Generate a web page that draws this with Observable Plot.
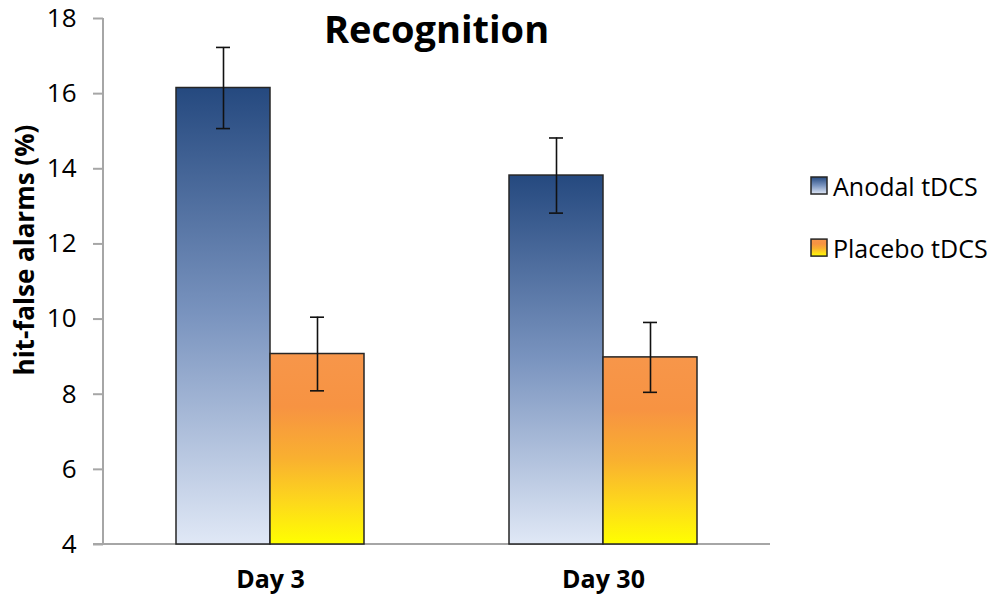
<!DOCTYPE html>
<html><head><meta charset="utf-8">
<script src="https://cdn.jsdelivr.net/npm/d3@7"></script>
<script src="https://cdn.jsdelivr.net/npm/@observablehq/plot@0.6"></script>
<style>body{margin:0;background:#fff} #chart{position:relative;width:1000px;height:606px}</style>
</head><body><div id="chart"></div>
<script>
const days = ["Day 3", "Day 30"];
const groups = ["Anodal tDCS", "Placebo tDCS"];
const anodalMeans = [16.15, 13.82];
const anodalErrors = [1.08, 1.0];
const placeboMeans = [9.07, 8.98];
const placeboErrors = [0.98, 0.93];
const yTicks = [4, 6, 8, 10, 12, 14, 16, 18];
const titleText = "Recognition";
const yLabel = "hit-false alarms (%)";

const rows = [];
days.forEach((day, i) => {
  rows.push({day, group: groups[0], value: anodalMeans[i], err: anodalErrors[i]});
  rows.push({day, group: groups[1], value: placeboMeans[i], err: placeboErrors[i]});
});

const plot = Plot.plot({
  width: 1000, height: 606,
  marginLeft: 103, marginRight: 230, marginTop: 18, marginBottom: 62,
  style: {fontFamily: "'Open Sans', sans-serif", background: "white", overflow: "visible"},
  fx: {domain: days, paddingInner: 0.435, paddingOuter: 0.2175, label: null},
  x: {domain: groups, padding: 0, axis: null},
  y: {domain: [4, 18]},
  marks: [
    Plot.barY(rows.filter(d => d.group === groups[0]), {fx: "day", x: "group", y1: 4, y2: "value", fill: "url(#gradA)", stroke: "#262626", strokeWidth: 1.5}),
    Plot.barY(rows.filter(d => d.group === groups[1]), {fx: "day", x: "group", y1: 4, y2: "value", fill: "url(#gradP)", stroke: "#262626", strokeWidth: 1.5}),
    Plot.ruleX(rows, {fx: "day", x: "group", y1: d => d.value - d.err, y2: d => d.value + d.err, stroke: "#111", strokeWidth: 1.6}),
    Plot.tickY(rows, {fx: "day", x: "group", y: d => d.value + d.err, insetLeft: 40, insetRight: 40, stroke: "#111", strokeWidth: 1.6}),
    Plot.tickY(rows, {fx: "day", x: "group", y: d => d.value - d.err, insetLeft: 40, insetRight: 40, stroke: "#111", strokeWidth: 1.6}),
    Plot.axisY({ticks: yTicks, tickSize: 10, tickPadding: 17, fontSize: 26, stroke: "#a6a6a6", strokeWidth: 2, fill: "black", label: null, tickFormat: d => String(d)}),
    Plot.axisFx({anchor: "bottom", tickSize: 0, tickPadding: 26, fontSize: 25, fontWeight: "bold", fill: "black", label: null})
  ]
});

const svg = d3.select(plot);
const defs = svg.insert("defs", ":first-child");
function grad(id, stops) {
  const g = defs.append("linearGradient").attr("id", id).attr("x1", 0).attr("y1", 0).attr("x2", 0).attr("y2", 1);
  stops.forEach(([o, c]) => g.append("stop").attr("offset", o).attr("stop-color", c));
}
grad("gradA", [[0, "#25497f"], [0.5, "#7a94bf"], [1, "#e0e8f6"]]);
grad("gradP", [[0, "#f7964a"], [0.28, "#f79342"], [0.55, "#f9b030"], [0.78, "#fdd81c"], [1, "#ffff00"]]);

const ys = plot.scale("y");
const fxs = plot.scale("fx");
const x0 = fxs.range[0], x1 = fxs.range[1];
// move the y axis from the first facet's edge to the frame's left edge
const shift = x0 - fxs.apply(days[0]);
svg.selectAll("g[aria-label^='y-axis']").each(function() {
  const t = this.getAttribute("transform") || "";
  this.setAttribute("transform", `translate(${shift},0) ${t}`);
});

const axes = svg.append("g").attr("stroke", "#a6a6a6").attr("stroke-width", 2);
axes.append("line").attr("x1", x0).attr("x2", x0).attr("y1", ys.apply(18)).attr("y2", ys.apply(4));
axes.append("line").attr("x1", x0 - 10).attr("x2", x1).attr("y1", ys.apply(4)).attr("y2", ys.apply(4));
svg.selectAll("g[aria-label='bar'], g[aria-label='rule'], g[aria-label='tick']").raise();

svg.append("text").attr("x", (x0 + x1) / 2).attr("y", 43).attr("text-anchor", "middle")
  .attr("font-size", 38).attr("font-weight", "bold").attr("fill", "black").text(titleText);

svg.append("text").attr("transform", "translate(23.5,250) rotate(-90)").attr("text-anchor", "middle")
  .attr("dominant-baseline", "central").attr("font-size", 26).attr("font-weight", "bold").attr("fill", "black").text(yLabel);

const legend = svg.append("g");
const legendItems = [[groups[0], "url(#gradA)", 185.5], [groups[1], "url(#gradP)", 247.6]];
legendItems.forEach(([label, fill, cy]) => {
  legend.append("rect").attr("x", 811).attr("y", cy - 8.5).attr("width", 16).attr("height", 17)
    .attr("fill", fill).attr("stroke", "#262626").attr("stroke-width", 1.5);
  legend.append("text").attr("x", 833).attr("y", cy).attr("text-anchor", "start").attr("dominant-baseline", "central")
    .attr("font-size", 25).attr("fill", "black").text(label);
});

document.getElementById("chart").appendChild(plot);
</script>
</body></html>
